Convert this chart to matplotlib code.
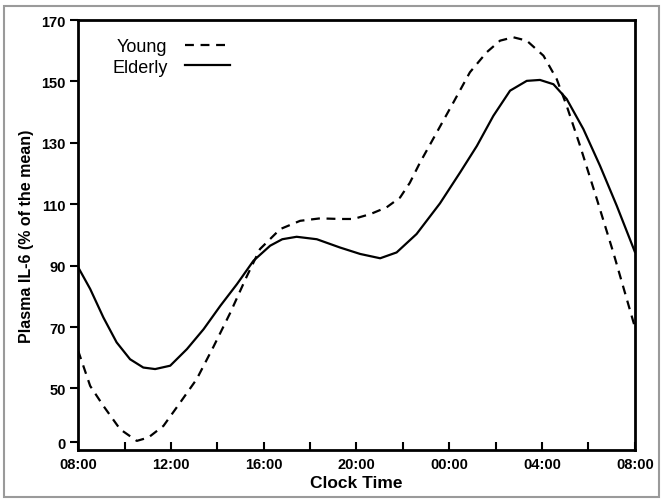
import numpy as np
import matplotlib.pyplot as plt
from matplotlib.patches import Rectangle

plt.rcParams['font.family'] = ['Liberation Sans', 'DejaVu Sans']

# hours after 08:00 (axis bottom ~30, "0" tick drawn at 32.5)
elderly_h = [0, 0.52, 1.09, 1.66, 2.24, 2.81, 3.32, 3.97, 4.69, 5.41, 6.13, 6.85,
             7.56, 8.28, 8.8, 9.42, 10.29, 11.29, 12.16, 13.02, 13.73, 14.59,
             15.6, 16.47, 17.19, 17.9, 18.62, 19.34, 19.91, 20.49, 21.06, 21.78,
             22.5, 23.22, 24]
elderly_v = [89.5, 82.4, 73.1, 65.0, 59.5, 56.8, 56.3, 57.4, 62.8, 69.3, 76.9, 84.0,
             91.6, 96.5, 98.6, 99.4, 98.6, 95.9, 93.8, 92.4, 94.3, 100.3,
             110.3, 120.4, 129.0, 138.8, 147.0, 150.2, 150.5, 149.1, 144.3, 134.5,
             122.5, 109.5, 94.5]

young_h = [0, 0.52, 1.09, 1.81, 2.53, 3.03, 3.68, 4.4, 5.11, 5.83, 6.55, 7.27,
           7.84, 8.71, 9.57, 10.43, 11.29, 11.87, 12.6, 13.3, 13.88, 14.3, 14.74,
           15.46, 16.18, 16.89, 17.61, 18.19, 18.76, 19.34, 20.06, 20.63, 21.06,
           21.64, 22.36, 23.07, 24]
young_v = [62.3, 50.8, 44.3, 36.7, 32.9, 34.0, 37.8, 45.4, 53.0, 63.5, 74.5, 86.5,
           95.4, 101.9, 104.6, 105.4, 105.2, 105.2, 106.8, 109.0, 112.2, 117.0, 123.6,
           133.4, 143.2, 153.0, 159.5, 163.3, 164.4, 163.3, 158.4, 150.8, 142.1,
           129.0, 111.7, 94.3, 70.0]

ytick_pos = [32.5, 50, 70, 90, 110, 130, 150, 170]
ytick_lab = ['0', '50', '70', '90', '110', '130', '150', '170']
xtick_lab = ['08:00', '12:00', '16:00', '20:00', '00:00', '04:00', '08:00']

fig = plt.figure(figsize=(6.62, 5.02), dpi=100)
fig.patches.append(Rectangle((0.006, 0.008), 0.989, 0.978, transform=fig.transFigure,
                             fill=False, edgecolor='#9a9a9a', lw=1.5))
ax = fig.add_axes([0.118, 0.102, 0.841, 0.856])

ax.plot(young_h, young_v, color='black', lw=1.6, ls=(0, (4, 3)), label='Young')
ax.plot(elderly_h, elderly_v, color='black', lw=1.6, label='Elderly')

ax.set_xlim(0, 24)
ax.set_ylim(30, 170)
ax.set_yticks(ytick_pos)
ax.set_yticklabels(ytick_lab)
ax.set_xticks(np.arange(0, 25, 2))
ax.set_xticklabels([xtick_lab[i // 2] if i % 2 == 0 else '' for i in range(13)])
ax.tick_params(axis='y', direction='out', length=6, width=1.5, labelsize=10.5, pad=3)
ax.tick_params(axis='x', direction='in', length=6, width=1.5, labelsize=10.5, pad=5)
for lab in ax.get_xticklabels() + ax.get_yticklabels():
    lab.set_fontweight('bold')
for s in ax.spines.values():
    s.set_linewidth(2)

ax.set_xlabel('Clock Time', fontsize=12.5, fontweight='bold', labelpad=3)
ax.set_ylabel('Plasma IL-6 (% of the mean)', fontsize=11.5, fontweight='bold', labelpad=5)

ax.legend(loc='upper left', bbox_to_anchor=(0.048, 0.975), frameon=False,
          markerfirst=False, fontsize=13, handlelength=2.5, handletextpad=0.95,
          labelspacing=0.2, borderaxespad=0)

fig.savefig('out.png', dpi=100)
